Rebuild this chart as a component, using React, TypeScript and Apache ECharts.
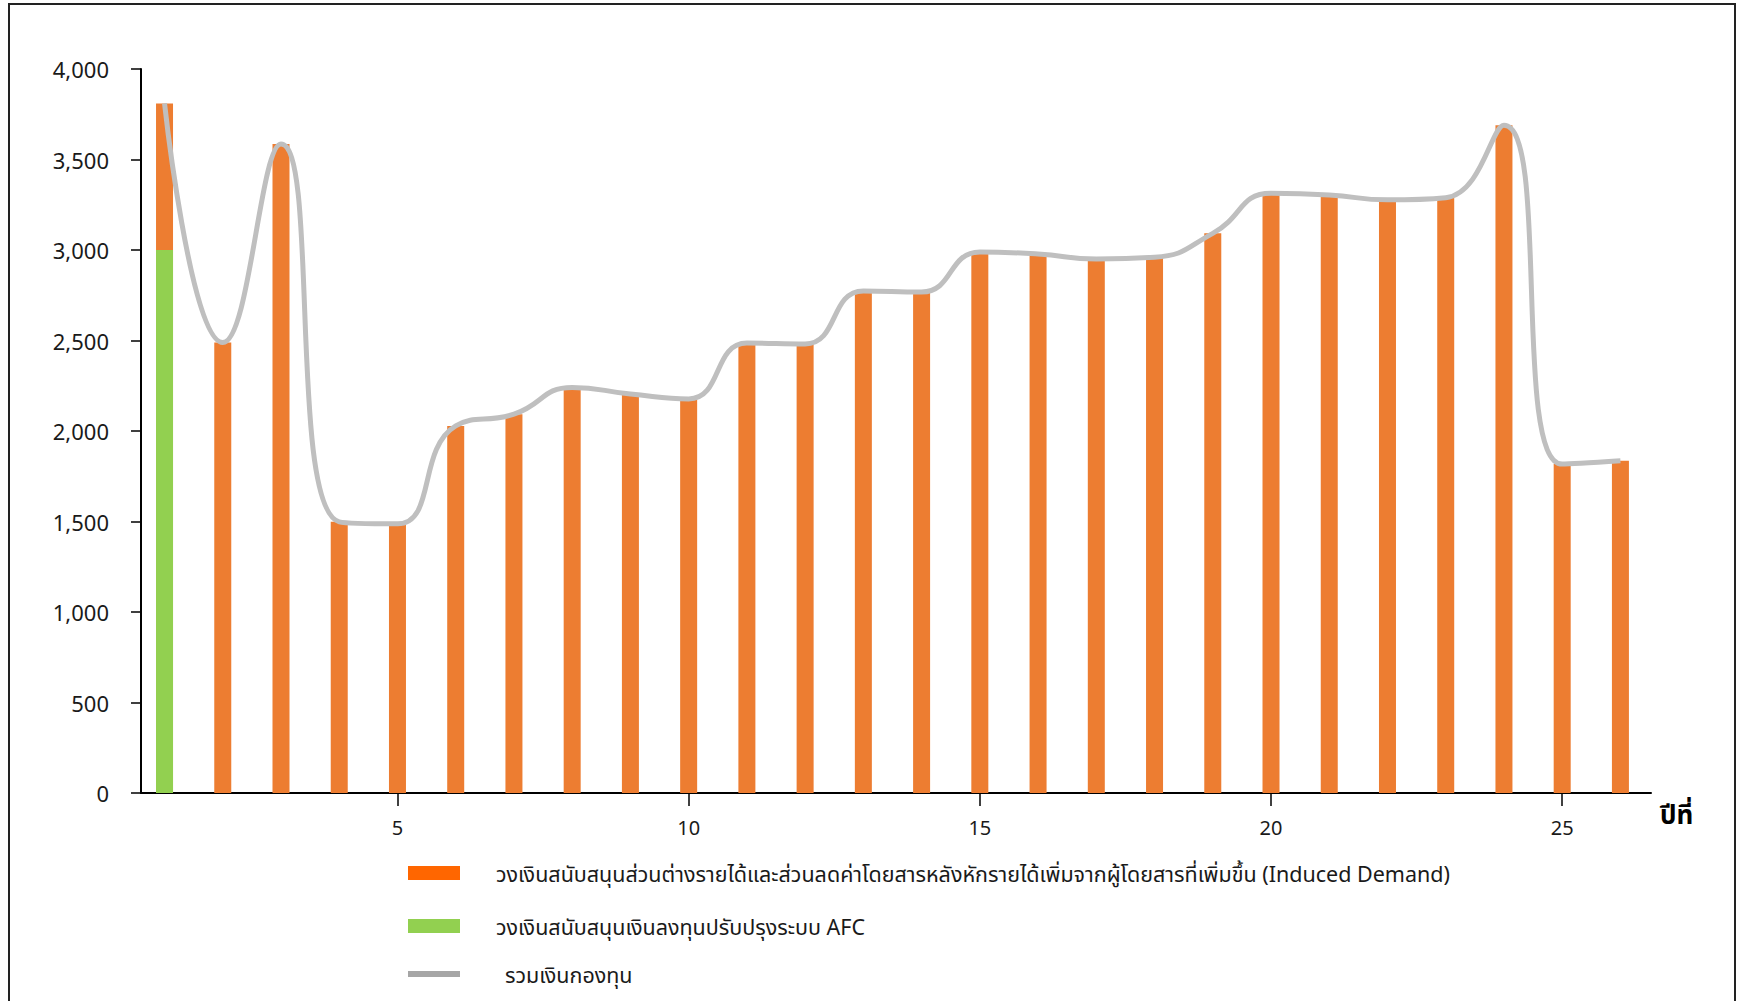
import React, { useEffect, useRef } from "react";
import * as echarts from "echarts";

const years = [1, 2, 3, 4, 5, 6, 7, 8, 9, 10, 11, 12, 13, 14, 15, 16, 17, 18, 19, 20, 21, 22, 23, 24, 25, 26];
const inducedDemand = [810, 2489, 3585, 1498, 1487, 2028, 2093, 2241, 2204, 2177, 2486, 2481, 2774, 2768, 2989, 2978, 2950, 2960, 3092, 3313, 3304, 3277, 3289, 3689, 1817, 1835];
const afcInvestment = [3000, 0, 0, 0, 0, 0, 0, 0, 0, 0, 0, 0, 0, 0, 0, 0, 0, 0, 0, 0, 0, 0, 0, 0, 0, 0];
const xTickLabels = [5, 10, 15, 20, 25];
const yTicks = [0, 500, 1000, 1500, 2000, 2500, 3000, 3500, 4000];

const nameInduced = "วงเงินสนับสนุนส่วนต่างรายได้และส่วนลดค่าโดยสารหลังหักรายได้เพิ่มจากผู้โดยสารที่เพิ่มขึ้น (Induced Demand)";
const nameAfc = "วงเงินสนับสนุนเงินลงทุนปรับปรุงระบบ AFC";
const nameTotal = "รวมเงินกองทุน";
const xAxisTitle = "ปีที่";

const FONT = "'Noto Sans', 'Noto Sans Thai', 'Tahoma', sans-serif";

export default function App() {
  const ref = useRef<HTMLDivElement>(null);
  useEffect(() => {
    document.body.style.margin = "0";
    if (!ref.current) return;
    const chart = echarts.init(ref.current, null, { renderer: "svg" });
    // Stacked look: orange bar spans the full total, AFC (green) overlays its lower part.
    const totalData = years.map((y, i) => [y, inducedDemand[i] + afcInvestment[i]]);
    const afcData = years.map((y, i) => [y, afcInvestment[i] > 0 ? afcInvestment[i] : null]);
    const legendText = { fontSize: 21.5, color: "#1a1a1a", lineHeight: 20, fontFamily: FONT };
    chart.setOption({
      animation: false,
      backgroundColor: "#ffffff",
      textStyle: { fontFamily: FONT },
      grid: { left: 141, right: 90, top: 69, bottom: 208, containLabel: false },
      xAxis: {
        type: "value",
        min: 0.596,
        max: 26.525,
        axisLine: { show: true, onZero: false, lineStyle: { color: "#000", width: 2 } },
        axisTick: {
          show: true,
          length: 13,
          customValues: xTickLabels,
          lineStyle: { color: "#000", width: 1.5 },
        },
        axisLabel: {
          customValues: xTickLabels,
          margin: 24,
          fontSize: 20,
          color: "#1a1a1a",
          fontFamily: FONT,
        },
        splitLine: { show: false },
      },
      yAxis: {
        type: "value",
        min: yTicks[0],
        max: yTicks[yTicks.length - 1],
        interval: 500,
        axisLine: { show: true, lineStyle: { color: "#000", width: 2 } },
        axisTick: { show: true, length: 10, lineStyle: { color: "#000", width: 1.5 } },
        axisLabel: {
          margin: 32,
          fontSize: 22,
          color: "#1a1a1a",
          fontFamily: FONT,
          formatter: (v: number) => v.toLocaleString("en-US"),
        },
        splitLine: { show: false },
      },
      legend: [
        {
          orient: "vertical",
          left: 403,
          top: 857,
          itemWidth: 52,
          itemHeight: 14,
          icon: "rect",
          selectedMode: false,
          textStyle: { ...legendText, padding: [0, 0, 0, 31] },
          data: [{ name: nameInduced, itemStyle: { color: "#FF6600" } }],
        },
        {
          orient: "vertical",
          left: 403,
          top: 910,
          itemWidth: 52,
          itemHeight: 14,
          icon: "rect",
          selectedMode: false,
          textStyle: { ...legendText, padding: [0, 0, 0, 31] },
          data: [{ name: nameAfc, itemStyle: { color: "#92D050" } }],
        },
        {
          orient: "vertical",
          left: 403,
          top: 958,
          itemWidth: 52,
          itemHeight: 14,
          selectedMode: false,
          textStyle: { ...legendText, padding: [0, 0, 0, 40] },
          data: [
            {
              name: nameTotal,
              icon: "path://M0,4 L52,4 L52,10 L0,10 Z",
              itemStyle: { color: "#A6A6A6" },
            },
          ],
        },
      ],
      series: [
        {
          name: nameInduced,
          type: "bar",
          barWidth: 17,
          barGap: "-100%",
          itemStyle: { color: "#ED7D31" },
          data: totalData,
        },
        {
          name: nameAfc,
          type: "bar",
          barWidth: 17,
          barGap: "-100%",
          z: 3,
          itemStyle: { color: "#92D050" },
          data: afcData,
        },
        {
          name: nameTotal,
          type: "line",
          smooth: 0.5,
          symbol: "none",
          z: 5,
          lineStyle: { color: "#BFBFBF", width: 5 },
          itemStyle: { color: "#A6A6A6" },
          data: totalData,
        },
      ],
      graphic: [
        {
          type: "rect",
          shape: { x: 9, y: 4, width: 1726, height: 1020 },
          style: { fill: "none", stroke: "#222", lineWidth: 2 },
          silent: true,
        },
        {
          type: "text",
          x: 1660,
          y: 814,
          style: {
            text: xAxisTitle,
            fontSize: 26,
            fontWeight: "bold",
            fill: "#000",
            fontFamily: FONT,
            verticalAlign: "middle",
            align: "left",
          },
        },
      ],
    });
    return () => chart.dispose();
  }, []);
  return <div ref={ref} style={{ width: 1741, height: 1001 }} />;
}
